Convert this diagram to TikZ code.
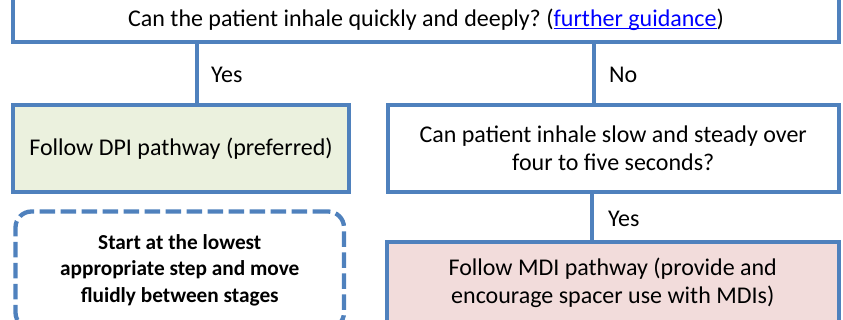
\documentclass[tikz,border=0pt]{standalone}
\usepackage{fontspec}
\setmainfont{Carlito}
\usetikzlibrary{positioning}
\definecolor{boxblue}{HTML}{4F81BD}
\definecolor{dpigreen}{HTML}{EBF1DE}
\definecolor{mdipink}{HTML}{F2DCDB}
\definecolor{linkblue}{HTML}{0000FF}
\newsavebox{\linkbox}
\newcommand{\weblink}[1]{\textcolor{linkblue}{\sbox{\linkbox}{#1}\rlap{\rule[-2.5pt]{\wd\linkbox}{1.5pt}}\usebox{\linkbox}}}

\begin{document}
\begin{tikzpicture}[x=1pt, y=-1pt,
        box/.style={draw=boxblue, line width=4pt, align=center, inner sep=0pt,
            font=\frenchspacing\fontsize{24}{28}\selectfont},
        tipbox/.style={draw=boxblue, line width=4.3pt, dash pattern=on 15.5pt off 5.5pt,
            rounded corners=16pt, align=center, inner sep=0pt,
            font=\bfseries\fontsize{21.3}{26.5}\selectfont},
        branch/.style={draw=boxblue, line width=4pt},
        answer/.style={anchor=base west, inner sep=0pt, font=\fontsize{24}{28}\selectfont}]
        	\useasboundingbox (0,0) rectangle (843,320);
        	% boxes
        	\node [box, text depth=1.5pt, minimum width=826pt, minimum height=47.5pt] (quick) at (426,18.75)
        	    {Can the patient inhale quickly and deeply? (\weblink{further guidance})};
        	\node [box, fill=dpigreen, minimum width=336pt, minimum height=86.5pt] (dpi) at (181,148.75)
        	    {Follow DPI pathway (preferred)};
        	\node [box, minimum width=450.5pt, minimum height=86.5pt] (steady) at (613.25,148.75)
        	    {Can patient inhale slow and steady over\\four to five seconds?};
        	\node [box, fill=mdipink, minimum width=451.5pt, minimum height=82pt] (mdi) at (612.75,283)
        	    {Follow MDI pathway (provide and\\encourage spacer use with MDIs)};
        	\node [tipbox, minimum width=328.5pt, minimum height=117pt] (tip) at (179.75,270)
        	    {Start at the lowest\\appropriate step and move\\fluidly between stages};
        	% branches
        	\coordinate (yesdpi) at (197,0);
        	\coordinate (nosteady) at (594,0);
        	\coordinate (yesmdi) at (592,0);
        	\draw [branch] (quick.south -| yesdpi) -- (dpi.north -| yesdpi);
        	\draw [branch] (quick.south -| nosteady) -- (steady.north -| nosteady);
        	\draw [branch] (steady.south -| yesmdi) -- (mdi.north -| yesmdi);
        	\node [answer] (yes1) at (211,83) {Yes};
        	\node [answer] (no1) at (609,83) {No};
        	\node [answer] (yes2) at (608,226.5) {Yes};
        \end{tikzpicture}
\end{document}
